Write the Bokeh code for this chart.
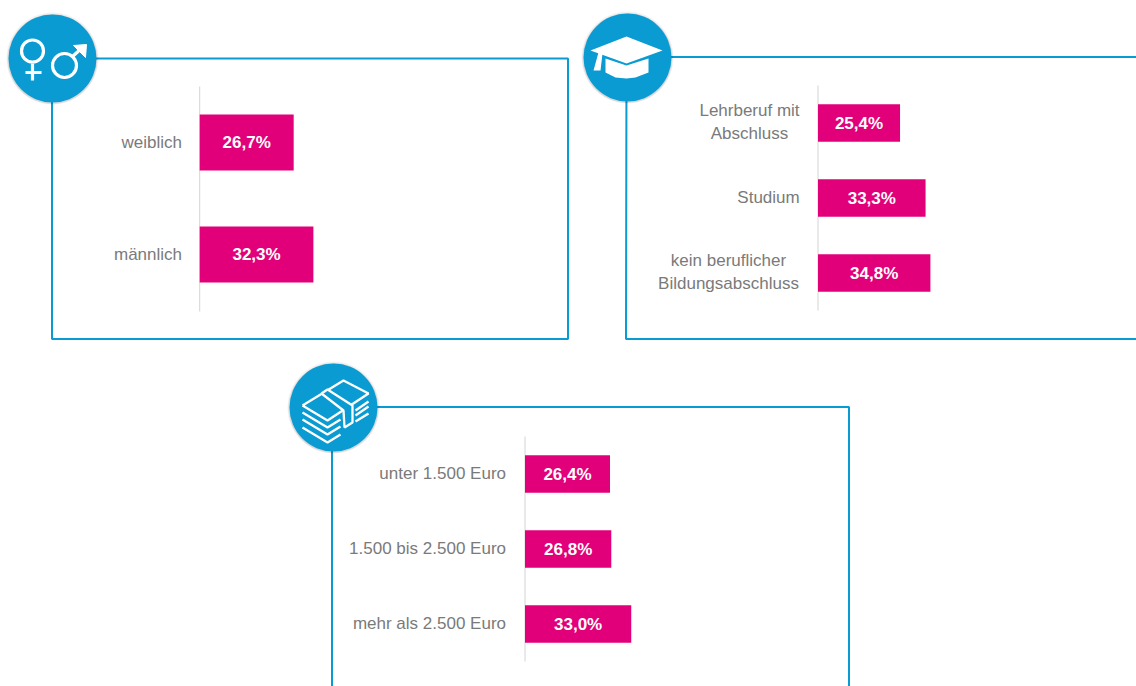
from bokeh.plotting import figure
from bokeh.models import Range1d
from bokeh.core.properties import value
from bokeh.embed import file_html
from bokeh.resources import INLINE

# --- data ---
gender_labels = ["weiblich", "männlich"]
gender_values = [26.7, 32.3]
education_labels = ["Lehrberuf mit\nAbschluss", "Studium", "kein beruflicher\nBildungsabschluss"]
education_values = [25.4, 33.3, 34.8]
income_labels = ["unter 1.500 Euro", "1.500 bis 2.500 Euro", "mehr als 2.500 Euro"]
income_values = [26.4, 26.8, 33.0]

W, H = 1136, 686
BLUE = "#0a9bd2"
PINK = "#e2007a"
GREY = "#7a7a7a"
FONT = value("Liberation Sans")

p = figure(width=W, height=H, output_backend="svg", toolbar_location=None,
           x_range=Range1d(0, W), y_range=Range1d(H, 0),
           min_border=0, outline_line_color=None)
p.xaxis.visible = False
p.yaxis.visible = False
p.grid.visible = False

# frames (px coordinates in the default ranges)
p.line([51.5, 567.5, 567.5, 51.5, 51.5], [58, 58, 338.5, 338.5, 58], line_color=BLUE, line_width=2)
p.line([626, 1140], [56.5, 56.5], line_color=BLUE, line_width=2)
p.line([626, 625.5, 1140], [57, 338.5, 338.5], line_color=BLUE, line_width=2)
p.line([331.5, 331.5], [407, 690], line_color=BLUE, line_width=2)
p.line([331.5, 848.5, 848.5], [406.5, 406.5, 690], line_color=BLUE, line_width=2)

# panels: data drawn through own scales
panels = [
    ("a", gender_labels, gender_values, 199.2, 3.52, 142, 112, 56, 86, 311, [181.5, 181.5], "right", 0),
    ("b", education_labels, education_values, 817.5, 3.23, 122.5, 75, 37.5, 85, 310, [749, 768, 728], "center", -1),
    ("c", income_labels, income_values, 524.5, 3.22, 473.5, 75, 37.5, 436, 661, [505.5, 505.5, 505.5], "right", -1),
]
for name, labels, vals, x0, sx, c0, sp, bar_px, top, bot, lab_x, lab_align, lab_dy in panels:
    xn, yn = "x" + name, "y" + name
    p.extra_x_ranges[xn] = Range1d(-x0 / sx, (W - x0) / sx)
    p.extra_y_ranges[yn] = Range1d((H - c0) / sp, -c0 / sp)
    idx = list(range(len(vals)))
    p.segment([0], [(top - c0) / sp], [0], [(bot - c0) / sp], x_range_name=xn, y_range_name=yn,
              line_color="#d4d4d4", line_width=1)
    p.hbar(y=idx, left=0, right=vals, height=bar_px / sp, x_range_name=xn, y_range_name=yn,
           fill_color=PINK, line_color=None)
    p.text(x=[v / 2 for v in vals], y=idx, text=[f"{v:.1f}%".replace(".", ",") for v in vals],
           x_range_name=xn, y_range_name=yn, text_color="white", text_font=FONT,
           text_font_style="bold", text_font_size="17px", text_align="center", text_baseline="middle")
    p.text(x=[0] * len(vals), y=idx, text=labels, x_offset=[lx - x0 for lx in lab_x], y_offset=lab_dy,
           x_range_name=xn, y_range_name=yn, text_color=GREY, text_font=FONT,
           text_font_size="17px", text_align=lab_align,
           text_baseline="middle", text_line_height=1.25)

# icon discs
for cx, cy in [(52, 58), (627, 57), (333, 407)]:
    p.scatter([cx], [cy], size=92, marker="circle", fill_color="#000000", fill_alpha=0.05, line_color=None)
    p.scatter([cx], [cy + 0.5], size=90, marker="circle", fill_color="#000000", fill_alpha=0.10, line_color=None)
    p.scatter([cx], [cy], size=88, marker="circle", fill_color=BLUE, line_color=None)

# gender icon
WHITE = "white"
p.scatter([32], [50.5], size=22, marker="circle", fill_color=None, line_color=WHITE, line_width=3.2)
p.line([32, 32], [63, 80], line_color=WHITE, line_width=3.2)
p.line([25, 41], [72, 72], line_color=WHITE, line_width=3.2)
p.scatter([64], [65], size=24, marker="circle", fill_color=None, line_color=WHITE, line_width=3.2)
p.line([72, 83], [56, 46], line_color=WHITE, line_width=3.2)
p.patch([73, 86, 85], [45, 44, 57], fill_color=WHITE, line_color=WHITE)

# cap icon
p.patch([605, 626, 648, 648, 635, 626, 615, 605], [58, 65, 58, 72, 77, 78, 77, 72], fill_color=WHITE, line_color=None)
p.patch([626, 662, 626, 590], [36, 50, 63, 50], fill_color=WHITE, line_color=None)
p.patch([598, 593, 600, 602], [52, 70, 70, 53], fill_color=WHITE, line_color=None)

# money icon
lw = 2.3
p.line([302, 343, 368, 327, 302], [405, 380, 393, 420, 405], line_color=WHITE, line_width=lw)
for dy in [7, 14, 22]:
    p.line([302, 327, 340], [405 + dy, 420 + dy, 412 + dy], line_color=WHITE, line_width=lw)
p.patch([321, 327, 352, 352, 344, 343], [393, 389, 405, 422, 427, 410], fill_color=BLUE, line_color=WHITE, line_width=lw)
for y0, y1 in [(410, 401), (415, 406), (421, 413)]:
    p.line([355, 368], [y0, y1], line_color=WHITE, line_width=lw)

open("out.html", "w").write(file_html(p, INLINE))
